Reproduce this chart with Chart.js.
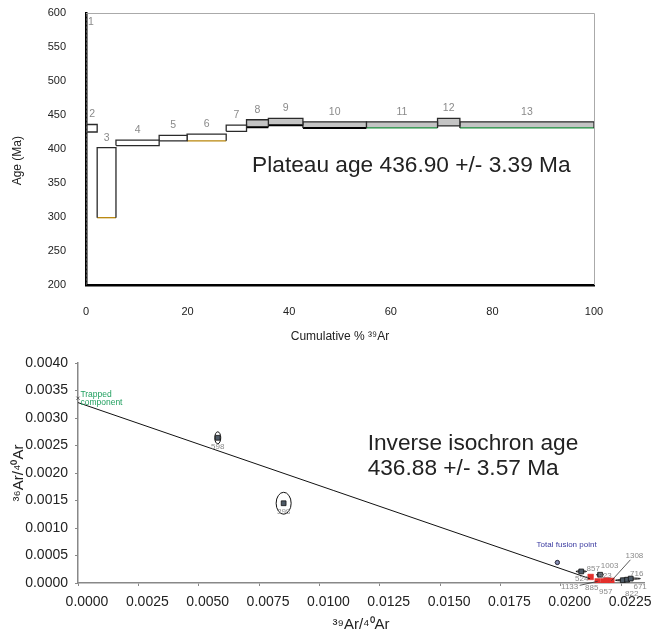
<!DOCTYPE html>
<html>
<head>
<meta charset="utf-8">
<script src="https://cdn.jsdelivr.net/npm/chart.js@4.4.1/dist/chart.umd.min.js"></script>
<style>
  html, body { margin: 0; padding: 0; background: #fff; }
  #wrap { position: relative; width: 660px; height: 634px; }
  #spectrumChart { position: absolute; left: 0; top: 0; }
  #isochronChart { position: absolute; left: 0; top: 344px; }
</style>
</head>
<body>
<div id="wrap">
  <canvas id="spectrumChart" width="660" height="350"></canvas>
  <canvas id="isochronChart" width="660" height="290"></canvas>
</div>
<script>
// ── Age spectrum data ───────────────────────────────
const stepNames = ['1', '2', '3', '4', '5', '6', '7', '8', '9', '10', '11', '12', '13'];
const cumStart  = [0, 0.2, 2.2, 5.9, 14.4, 19.9, 27.6, 31.6, 35.9, 42.7, 55.2, 69.2, 73.6];
const cumEnd    = [0.2, 2.2, 5.9, 14.4, 19.9, 27.6, 31.6, 35.9, 42.7, 55.2, 69.2, 73.6, 100];
const ageLow    = [180, 425, 299, 405, 412, 412, 426, 432, 435, 431, 431, 434, 431];
const ageHigh   = [640, 436, 402, 413, 420, 422, 435, 443, 445, 440, 440, 445, 440];
const plateauStep = [0, 0, 0, 0, 0, 0, 0, 1, 1, 1, 1, 1, 1];
const ageTicks = [200, 250, 300, 350, 400, 450, 500, 550, 600];
const cumTicks = [0, 20, 40, 60, 80, 100];

// ── Inverse isochron data ───────────────────────────
const isoLabels = ['598', '398', '857', '524', '923', '1133', '885', '957', '1003', '1308', '822', '671', '716'];
const isoX    = [0.00579, 0.00852, 0.02085, 0.02124, 0.02163, 0.02153, 0.02178, 0.02203, 0.02190, 0.02210, 0.02257, 0.02275, 0.02290];
const isoY    = [0.00264, 0.00145, 0.00021, 0.00011, 0.00015, 0.00003, 0.00003, 0.00002, 0.00005, 0.00004, 0.00005, 0.00006, 0.00008];
const isoErrX = [0.000124, 0.000311, 0.00022, 0.00008, 0.00015, 0.00008, 0.00008, 0.00008, 0.00008, 0.00008, 0.00030, 0.00025, 0.00040];
const isoErrY = [0.000109, 0.000199, 0.00001, 0.00001, 0.00001, 0.00001, 0.00001, 0.00001, 0.00001, 0.00001, 0.00001, 0.00001, 0.00001];
const isoPlateau = [0, 0, 0, 1, 0, 1, 1, 1, 1, 1, 0, 0, 0];
const isochronX = [0, 0.0212];
const isochronY = [0.00328, 0.00008];
const trapped = { x: 0, y: 0.00336 };
const totalFusion = { x: 0.01986, y: 0.000373, ex: 0.00009, ey: 0.00004 };
const ratioXTicks = [0, 0.0025, 0.005, 0.0075, 0.01, 0.0125, 0.015, 0.0175, 0.02, 0.0225];
const ratioYTicks = [0, 0.0005, 0.001, 0.0015, 0.002, 0.0025, 0.003, 0.0035, 0.004];

// label placement for isochron points (pixel offsets), and which get a leader line
const labelDx = [0, 0, 12, -9, 5, -28, -12, -4, 3, 23, 9, 13, 6];
const labelDy = [9, 9, -3, 2, 1, 5, 6, 10, -14, -25, 14, 7, -5];
const labelLeader = [0, 0, 0, 0, 0, 1, 0, 0, 0, 1, 0, 0, 0];

// bottom edge colours of the step boxes
const bottomEdge = [null, null, '#b8860b', null, null, '#b8860b', null, '#000', '#000', '#000', '#1a8f3c', null, '#1a8f3c'];

const FONT = '"Liberation Sans", Arial, Helvetica, sans-serif';
Chart.defaults.font.family = FONT;
Chart.defaults.color = '#222';

// ── Spectrum chart ──────────────────────────────────
const spectrumNotes = {
  id: 'spectrumNotes',
  beforeDatasetsDraw(chart) {
    const { ctx, chartArea: a } = chart;
    ctx.save();
    ctx.strokeStyle = '#aaa';
    ctx.lineWidth = 1;
    ctx.beginPath();
    ctx.moveTo(a.left, a.top + 0.5);
    ctx.lineTo(a.right + 0.5, a.top + 0.5);
    ctx.lineTo(a.right + 0.5, a.bottom);
    ctx.stroke();
    ctx.restore();
  },
  afterDatasetsDraw(chart) {
    const { ctx, chartArea: a, scales: { x, y } } = chart;
    ctx.save();
    ctx.fillStyle = '#8a8a8a';
    ctx.font = '10.5px ' + FONT;
    ctx.textAlign = 'center';
    ctx.textBaseline = 'middle';
    stepNames.forEach((name, i) => {
      const cx = Math.max((x.getPixelForValue(cumStart[i]) + x.getPixelForValue(cumEnd[i])) / 2, a.left + 5);
      const cy = Math.max(y.getPixelForValue(ageHigh[i]) - 10, a.top + 9);
      ctx.fillText(name, cx, cy);
    });
    ctx.fillStyle = '#222';
    ctx.font = '22.7px ' + FONT;
    ctx.textAlign = 'left';
    ctx.fillText('Plateau age 436.90 +/- 3.39 Ma', x.getPixelForValue(32.7), y.getPixelForValue(375));
    ctx.restore();
  },
};

const stepSets = stepNames.map((name, i) => ({
  label: 'Step ' + name,
  data: [
    { x: cumStart[i], y: ageLow[i] },
    { x: cumEnd[i], y: ageLow[i] },
    { x: cumEnd[i], y: ageHigh[i] },
    { x: cumStart[i], y: ageHigh[i] },
    { x: cumStart[i], y: ageLow[i] },
  ],
  fill: i === 0 ? false : 'shape',
  backgroundColor: plateauStep[i] ? '#c4c4c4' : '#ffffff',
  borderColor: i === 0 ? '#777' : '#2a2a2a',
  borderWidth: i === 0 ? 1 : 1.3,
  borderDash: i === 0 ? [2, 2] : [],
  pointRadius: 0,
  tension: 0,
  segment: {
    borderColor: c => (c.p0DataIndex === 0 && bottomEdge[i]) ? bottomEdge[i] : undefined,
    borderWidth: c => (c.p0DataIndex === 0 && bottomEdge[i] === '#000') ? 2 : undefined,
  },
}));

// invisible tick marks used only as label spacing
const spacer = len => ({ display: true, drawOnChartArea: false, drawTicks: true, tickLength: len, color: 'rgba(0,0,0,0)' });

new Chart(document.getElementById('spectrumChart'), {
  type: 'line',
  data: { datasets: stepSets },
  options: {
    responsive: false,
    animation: false,
    events: [],
    layout: { padding: { top: 13, right: 66, left: 0, bottom: 0 } },
    plugins: { legend: { display: false }, tooltip: { enabled: false } },
    scales: {
      x: {
        type: 'linear', min: 0, max: 100,
        afterFit: s => { s.height = 65; },
        afterBuildTicks: s => { s.ticks = cumTicks.map(v => ({ value: v })); },
        grid: spacer(20),
        border: { color: '#000', width: 2.5 },
        ticks: { padding: 0, font: { size: 11 }, color: '#222', maxRotation: 0 },
        title: { display: true, text: 'Cumulative % ³⁹Ar', font: { size: 12 }, color: '#222', padding: { top: 0, bottom: 6 } },
      },
      y: {
        type: 'linear', min: 200, max: 600,
        afterFit: s => { s.width = 86; },
        afterBuildTicks: s => { s.ticks = ageTicks.map(v => ({ value: v })); },
        grid: spacer(20),
        border: { color: '#000', width: 2.5 },
        ticks: { padding: 0, font: { size: 11 }, color: '#222' },
        title: { display: true, text: 'Age (Ma)       ', font: { size: 12 }, color: '#222', padding: { top: 10, bottom: 0 } },
      },
    },
  },
  plugins: [spectrumNotes],
});

// ── Isochron chart ──────────────────────────────────
const isochronNotes = {
  id: 'isochronNotes',
  beforeDatasetsDraw(chart) {
    const { ctx, scales: { x, y } } = chart;
    ctx.save();
    ctx.strokeStyle = '#111';
    ctx.lineWidth = 1;
    const ellipse = (vx, vy, ex, ey) => {
      const cx = x.getPixelForValue(vx), cy = y.getPixelForValue(vy);
      const rx = Math.abs(x.getPixelForValue(vx + ex) - cx);
      const ry = Math.max(Math.abs(y.getPixelForValue(vy + ey) - cy), 0.6);
      ctx.beginPath();
      ctx.ellipse(cx, cy, rx, ry, 0, 0, Math.PI * 2);
      ctx.stroke();
    };
    isoX.forEach((v, i) => ellipse(v, isoY[i], isoErrX[i], isoErrY[i]));
    ctx.strokeStyle = '#334';
    ellipse(totalFusion.x, totalFusion.y, totalFusion.ex, totalFusion.ey);
    ctx.restore();
  },
  afterDatasetsDraw(chart) {
    const { ctx, scales: { x, y } } = chart;
    ctx.save();
    ctx.font = '8px ' + FONT;
    ctx.textAlign = 'center';
    ctx.textBaseline = 'middle';
    isoLabels.forEach((name, i) => {
      const px = x.getPixelForValue(isoX[i]), py = y.getPixelForValue(isoY[i]);
      const lx = px + labelDx[i], ly = py + labelDy[i];
      if (labelLeader[i]) {
        ctx.strokeStyle = '#333';
        ctx.lineWidth = 0.8;
        ctx.beginPath();
        ctx.moveTo(lx + (labelDx[i] < 0 ? 10 : -4), ly + (labelDy[i] < 0 ? 4 : -1));
        ctx.lineTo(px, py);
        ctx.stroke();
      }
      ctx.fillStyle = '#8a8a8a';
      ctx.fillText(name, lx, ly);
    });

    ctx.textAlign = 'left';
    ctx.font = '8.5px ' + FONT;
    ctx.fillStyle = '#22a060';
    ctx.fillText('Trapped', x.getPixelForValue(0.0001), y.getPixelForValue(0.00343));
    ctx.fillText('component', x.getPixelForValue(0.0001), y.getPixelForValue(0.00327));

    ctx.font = '8px ' + FONT;
    ctx.fillStyle = '#3a3aa0';
    ctx.fillText('Total fusion point', x.getPixelForValue(0.0190), y.getPixelForValue(0.000694));

    ctx.font = '22.7px ' + FONT;
    ctx.fillStyle = '#222';
    const tx = x.getPixelForValue(0.0120), ty = y.getPixelForValue(0.00254);
    ctx.fillText('Inverse isochron age', tx, ty);
    ctx.fillText('436.88 +/- 3.57 Ma', tx, ty + 25);
    ctx.restore();
  },
};

const pts = flag => isoX.map((v, i) => ({ x: v, y: isoY[i], f: isoPlateau[i] })).filter(p => p.f === flag);

new Chart(document.getElementById('isochronChart'), {
  type: 'scatter',
  data: {
    datasets: [
      {
        label: 'Isochron',
        data: isochronX.map((v, i) => ({ x: v, y: isochronY[i] })),
        showLine: true,
        borderColor: '#111',
        borderWidth: 1,
        pointRadius: 0,
      },
      {
        label: 'Excluded steps',
        data: pts(0),
        pointStyle: 'rect',
        pointRadius: 3.4,
        backgroundColor: '#4e5a66',
        borderColor: '#111',
        borderWidth: 0.8,
      },
      {
        label: 'Plateau steps',
        data: pts(1),
        pointStyle: 'rect',
        pointRadius: 4,
        backgroundColor: '#e3302c',
        borderColor: '#e3302c',
        borderWidth: 0.5,
      },
      {
        label: 'Total fusion',
        data: [{ x: totalFusion.x, y: totalFusion.y }],
        pointStyle: 'circle',
        pointRadius: 2,
        backgroundColor: '#8890b8',
        borderColor: '#334',
        borderWidth: 0.8,
      },
      {
        label: 'Trapped component',
        data: [trapped],
        pointStyle: 'crossRot',
        pointRadius: 2.2,
        borderColor: '#555',
        borderWidth: 1,
        clip: false,
      },
    ],
  },
  options: {
    responsive: false,
    animation: false,
    events: [],
    layout: { padding: { top: 19, right: 16, left: 0, bottom: 0 } },
    plugins: { legend: { display: false }, tooltip: { enabled: false } },
    scales: {
      x: {
        type: 'linear', min: 0, max: 0.02345,
        afterFit: s => { s.height = 51; },
        afterBuildTicks: s => { s.ticks = ratioXTicks.map(v => ({ value: v })); },
        grid: { display: true, drawOnChartArea: false, tickLength: 3, color: '#888' },
        border: { color: '#888', width: 1.5 },
        ticks: { padding: 8, labelOffset: 9, font: { size: 14 }, color: '#222', maxRotation: 0, callback: v => Number(v).toFixed(4) },
        title: { display: true, text: '³⁹Ar/⁴⁰Ar', font: { size: 15 }, color: '#222', padding: { top: 0, bottom: 0 } },
      },
      y: {
        type: 'linear', min: 0, max: 0.004,
        afterFit: s => { s.width = 78; },
        afterBuildTicks: s => { s.ticks = ratioYTicks.map(v => ({ value: v })); },
        grid: { display: true, drawOnChartArea: false, tickLength: 3, color: '#888' },
        border: { color: '#888', width: 1.5 },
        ticks: { padding: 7, font: { size: 14 }, color: '#222', callback: v => Number(v).toFixed(4) },
        title: { display: true, text: '³⁶Ar/⁴⁰Ar', font: { size: 15 }, color: '#222', padding: { top: 10, bottom: 0 } },
      },
    },
  },
  plugins: [isochronNotes],
});
</script>
</body>
</html>
